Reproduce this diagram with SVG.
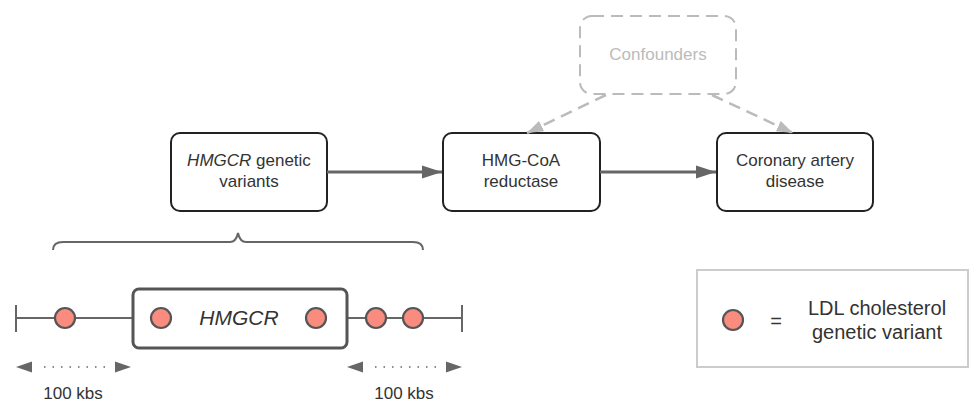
<svg xmlns="http://www.w3.org/2000/svg" width="971" height="402" viewBox="0 0 971 402">
<defs>
<marker id="ah" viewBox="0 0 10 10" refX="10" refY="5" markerWidth="6.7" markerHeight="4.4" orient="auto" markerUnits="strokeWidth" preserveAspectRatio="none">
<path d="M0,0 L10,5 L0,10 z" fill="#666"/>
</marker>
<marker id="ahg" viewBox="0 0 10 10" refX="10" refY="5" markerWidth="6.5" markerHeight="4.6" orient="auto" markerUnits="strokeWidth" preserveAspectRatio="none">
<path d="M0,0 L10,5 L0,10 z" fill="#bbb"/>
</marker>
</defs>
<style>
text{font-family:"Liberation Sans",Arial,sans-serif;fill:#333}
.node{fill:#fff;stroke:#222;stroke-width:2}
.t{font-size:17px;text-anchor:middle}
.var{fill:#f98b7f;stroke:#555;stroke-width:2.2}
.line{stroke:#666;stroke-width:2;fill:none}
.lg{font-size:20px;text-anchor:middle}
</style>
<rect width="971" height="402" fill="#fff"/>

<g id="confounders">
<rect x="580" y="16" width="156" height="78" rx="12" fill="none" stroke="#bbb" stroke-width="2" stroke-dasharray="12,7"/>
<text x="658" y="60" class="t" style="fill:#bbb">Confounders</text>
</g>

<g id="hmgcr-variants">
<rect class="node" x="171" y="133" width="156" height="78" rx="9"/>
<text x="249" y="166" class="t"><tspan font-style="italic">HMGCR</tspan> genetic</text>
<text x="249" y="187" class="t">variants</text>
</g>

<g id="hmgcoa">
<rect class="node" x="443" y="133" width="157" height="78" rx="9"/>
<text x="521" y="166" class="t">HMG-CoA</text>
<text x="521" y="187" class="t">reductase</text>
</g>

<g id="cad">
<rect class="node" x="717" y="133" width="156" height="78" rx="9"/>
<text x="795" y="166" class="t">Coronary artery</text>
<text x="795" y="187" class="t">disease</text>
</g>

<g id="connectors">
<line x1="327" y1="172" x2="442" y2="172" stroke="#666" stroke-width="3" marker-end="url(#ah)"/>
<line x1="600" y1="172" x2="716" y2="172" stroke="#666" stroke-width="3" marker-end="url(#ah)"/>
<line x1="606" y1="95" x2="527" y2="133" stroke="#bbb" stroke-width="2.5" stroke-dasharray="12,7" marker-end="url(#ahg)"/>
<line x1="712" y1="95" x2="793" y2="133" stroke="#bbb" stroke-width="2.5" stroke-dasharray="12,7" marker-end="url(#ahg)"/>
</g>

<g id="brace">
<path class="line" d="M53,250 Q53,242 63,242 L230,242 Q236,242 238,233 Q240,242 246,242 L413,242 Q423,242 423,250"/>
</g>

<g id="gene-track">
<line class="line" x1="16" y1="318" x2="462" y2="318"/>
<line class="line" x1="16" y1="305" x2="16" y2="332"/>
<line class="line" x1="462" y1="305" x2="462" y2="332"/>
<rect x="133" y="289" width="214" height="59" rx="6" fill="#fff" stroke="#555" stroke-width="3"/>
<text x="239" y="325" style="font-size:21px;font-style:italic" text-anchor="middle">HMGCR</text>
<circle class="var" cx="65" cy="318" r="10"/>
<circle class="var" cx="161" cy="318" r="10"/>
<circle class="var" cx="316" cy="318" r="10"/>
<circle class="var" cx="376" cy="318" r="10"/>
<circle class="var" cx="413" cy="318" r="10"/>
</g>

<g id="ranges">
<line x1="44" y1="367" x2="110" y2="367" stroke="#666" stroke-width="1.5" stroke-dasharray="1.5,7"/>
<path d="M16,367 L32,361.5 L32,372.5 z" fill="#666"/>
<path d="M131,367 L115,361.5 L115,372.5 z" fill="#666"/>
<text x="73" y="399" class="t">100 kbs</text>
<line x1="375" y1="367" x2="441" y2="367" stroke="#666" stroke-width="1.5" stroke-dasharray="1.5,7"/>
<path d="M347,367 L363,361.5 L363,372.5 z" fill="#666"/>
<path d="M462,367 L446,361.5 L446,372.5 z" fill="#666"/>
<text x="404" y="399" class="t">100 kbs</text>
</g>

<g id="legend">
<rect x="697" y="270" width="271" height="97" fill="#fff" stroke="#ccc" stroke-width="2"/>
<circle class="var" cx="733" cy="320" r="10"/>
<text x="776" y="328" class="lg">=</text>
<text x="877" y="315" class="lg">LDL cholesterol</text>
<text x="877" y="339" class="lg">genetic variant</text>
</g>
</svg>
